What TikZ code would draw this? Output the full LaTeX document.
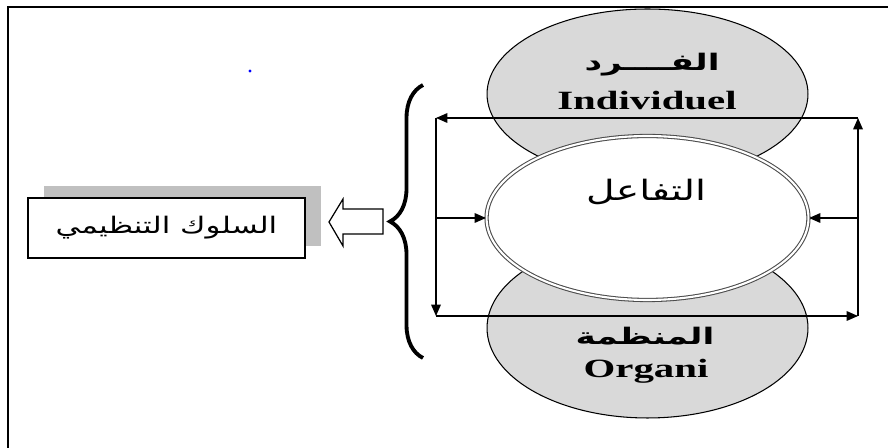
\documentclass[tikz,border=0pt]{standalone}
\usepackage{fontspec}
\setmainfont{Liberation Serif}
\newfontfamily\arabicfont[Script=Arabic]{DejaVu Sans}
\TeXXeTstate=1
\usetikzlibrary{arrows.meta,shapes.geometric,decorations.pathreplacing,shadows}

\newcommand\wtxt[2]{\scalebox{#1}[1]{#2}}
\definecolor{ovalgray}{HTML}{D9D9D9}
\definecolor{shadowgray}{HTML}{C0C0C0}

\tikzset{
  oval/.style={ellipse, draw, inner sep=0pt, line width=0.6pt},
  sideoval/.style={oval, fill=ovalgray, minimum width=6.42cm},
  tip/.style={-{Triangle[length=6.5pt,width=5.5pt]}, line width=0.7pt},
  arlabel/.style={inner sep=0pt, font=\arabicfont\bfseries\fontsize{13}{15}\selectfont},
  enlabel/.style={inner sep=0pt, font=\bfseries\fontsize{15}{17}\selectfont},
  behbox/.style={draw, fill=white, line width=1.5pt, minimum width=5.54cm, minimum height=1.2cm,
    font=\arabicfont\fontsize{13}{15}\selectfont,
    drop shadow={shadow xshift=0.32cm, shadow yshift=0.24cm, fill=shadowgray, opacity=1}}
}

\begin{document}
\begin{tikzpicture}[x=0.02cm, y=-0.02cm]
\useasboundingbox (0,0) rectangle (888,448);
% frame
\draw[line width=1.3pt] (8,448) -- (8,7) -- (888,7);
\fill[blue] (250,71) circle (1.6);

% the three ovals
\node[sideoval, minimum height=3.4cm] (indiv) at (647.5,94) {};
\node[sideoval, minimum height=3.6cm] (organ) at (647.5,328) {};
\node[oval, fill=white, draw=gray!60!black, double, double distance=1.2pt,
  minimum width=6.44cm, minimum height=3.28cm] (inter) at (647.5,218) {};

\node[arlabel] (indivar) at (652,65) {\wtxt{1.5}{\beginR الفــــرد\endR}};
\node[enlabel] (indiven) at (647,101) {\wtxt{1.55}{Individuel}};
\node[arlabel] (organar) at (645,336) {\wtxt{1.5}{\beginR المنظمة\endR}};
\node[enlabel] (organen) at (646,371) {\wtxt{1.55}{Organi}};
\node[inner sep=0pt, font=\arabicfont\fontsize{16}{18}\selectfont] (interar) at (646,192)
  {\wtxt{1.4}{\beginR التفاعل\endR}};

% the loop round the ovals
\coordinate (tl) at (436,118);
\coordinate (tr) at (858,118);
\coordinate (bl) at (436,316);
\coordinate (br) at (858,316);
\coordinate (ml) at (436,218);
\coordinate (mr) at (858,218);
\draw[tip] (tr) -- (tl);
\draw[tip] (tl) -- (bl);
\draw[tip] (bl) -- (br);
\draw[tip] (br) -- (tr);
\draw[tip] (ml) -- (inter.west);
\draw[tip] (mr) -- (inter.east);

% brace and hollow arrow
\coordinate (bracebot) at (423,358);
\coordinate (bracetop) at (423,85);
\draw[decorate, decoration={brace, amplitude=0.66cm}, line width=2.2pt] (bracebot) -- (bracetop);
\draw[line width=0.7pt, fill=white] (329,222) -- (343,199) -- (343,209) -- (383,209)
  -- (383,234) -- (343,234) -- (343,246) -- cycle;

\node[behbox] (behav) at (166.5,228) {\wtxt{1.35}{\beginR السلوك التنظيمي\endR}};
\end{tikzpicture}
\end{document}
